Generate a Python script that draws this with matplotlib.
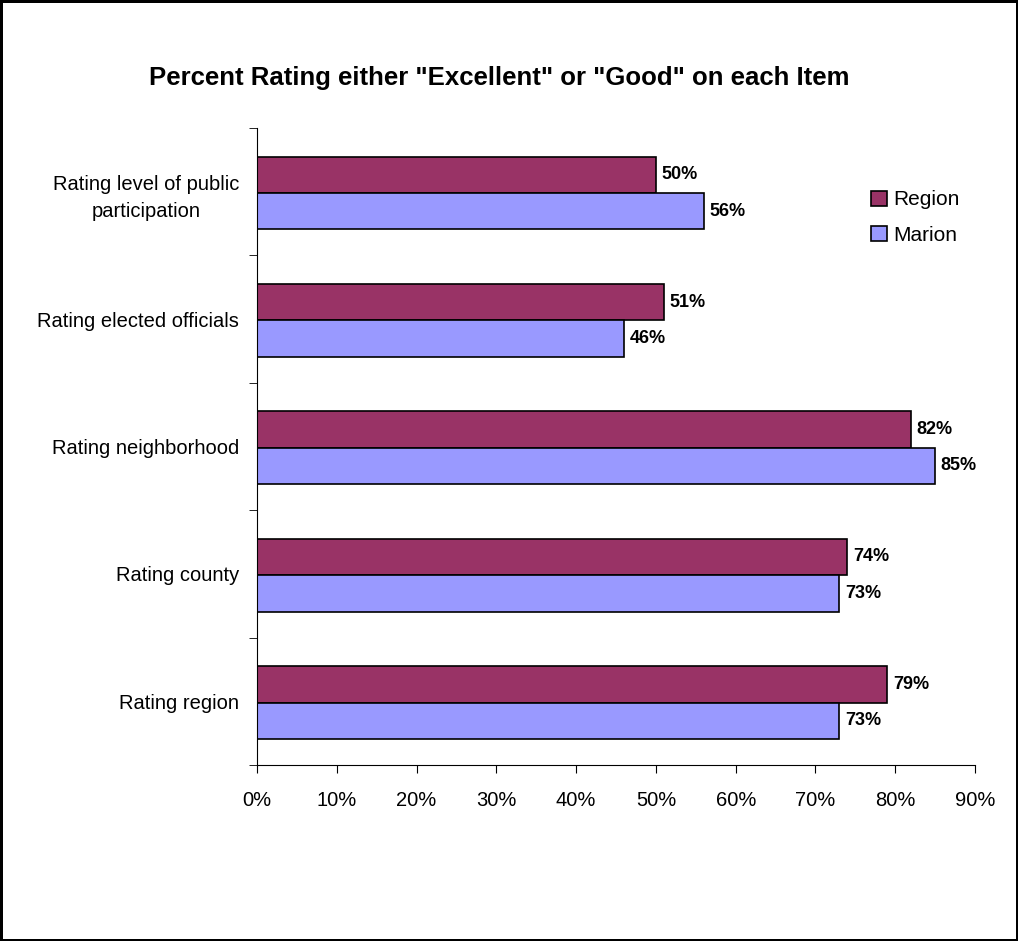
import numpy as np
import matplotlib.pyplot as plt
from matplotlib.ticker import FixedLocator, PercentFormatter

categories = ['Rating level of public\nparticipation', 'Rating elected officials',
              'Rating neighborhood', 'Rating county', 'Rating region']
region = [50, 51, 82, 74, 79]
marion = [56, 46, 85, 73, 73]

plt.rcParams['font.family'] = ['Liberation Sans', 'DejaVu Sans']

fig = plt.figure(figsize=(10.18, 9.41), dpi=100, linewidth=2.5, edgecolor='black')
ax = fig.add_axes([0.2525, 0.187, 0.7053, 0.677])

y = np.arange(len(categories)) + 0.01
h = 0.286
b1 = ax.barh(y - h / 2, region, height=h, color='#993366', edgecolor='black',
             linewidth=1.2, label='Region')
b2 = ax.barh(y + h / 2, marion, height=h, color='#9999FF', edgecolor='black',
             linewidth=1.2, label='Marion')

for bars, vals in ((b1, region), (b2, marion)):
    for bar, v in zip(bars, vals):
        ax.text(v + 0.7, bar.get_y() + bar.get_height() / 2, f'{v}%',
                va='center', ha='left', fontsize=13, fontweight='bold')

ax.set_xlim(0, 90)
ax.set_ylim(len(categories) - 0.5, -0.5)
ax.set_xticks(np.arange(0, 91, 10))
ax.xaxis.set_major_formatter(PercentFormatter(decimals=0))
ax.set_yticks(np.arange(len(categories)))
ax.set_yticklabels(categories, ha='right', multialignment='center', linespacing=1.55)
ax.yaxis.set_minor_locator(FixedLocator(np.arange(-0.5, len(categories), 1)))
ax.tick_params(axis='y', which='major', length=0, pad=13, labelsize=14.5)
ax.tick_params(axis='y', which='minor', length=6, direction='out')
ax.tick_params(axis='x', length=6, direction='out', labelsize=14.5, pad=13)

for s in ('top', 'right'):
    ax.spines[s].set_visible(False)

fig.text(0.49, 1 - 78 / 941, 'Percent Rating either "Excellent" or "Good" on each Item',
         ha='center', va='center', fontsize=18.5, fontweight='bold')

ax.legend(loc='center left', bbox_to_anchor=(0.855, 0.859), frameon=False,
          fontsize=15, handlelength=0.75, handleheight=0.75, handletextpad=0.3,
          labelspacing=0.8, borderpad=0, borderaxespad=0)

fig.savefig('out.png', dpi=100)
